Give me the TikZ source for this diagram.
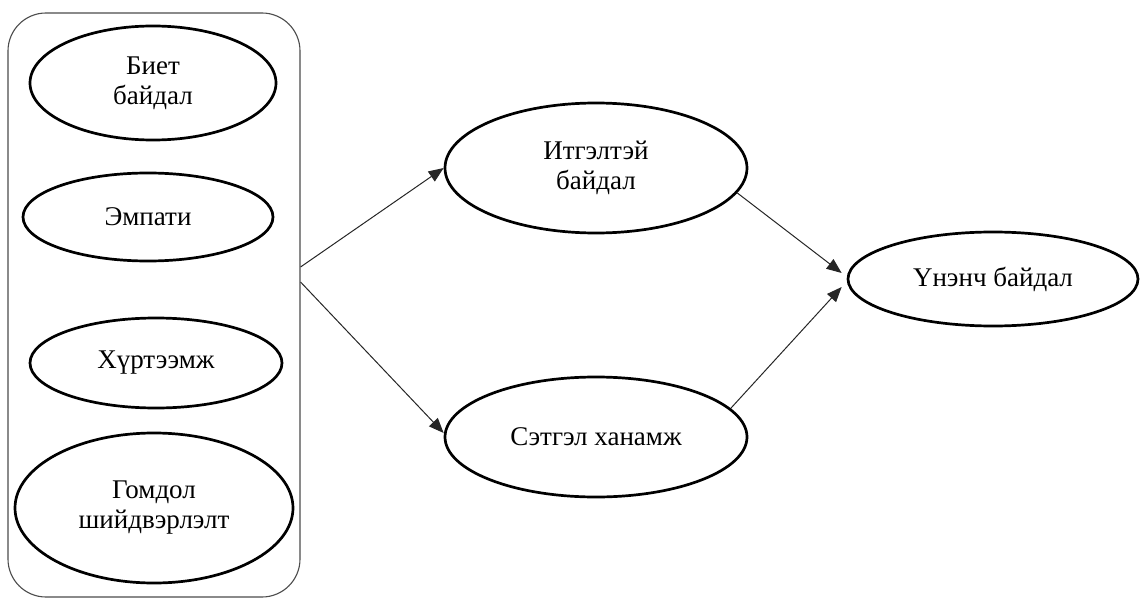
\documentclass[tikz,border=0pt]{standalone}
\usepackage{fontspec}
\setmainfont{Liberation Serif}
\usetikzlibrary{shapes.geometric,arrows.meta}
\begin{document}
\begin{tikzpicture}[x=1pt,y=-1pt,
  oval/.style={draw=black,line width=2.7pt,ellipse,inner sep=0pt,align=center,
    font=\fontsize{27}{30}\selectfont},
  grpbox/.style={draw=black!70,line width=1.1pt,rounded corners=38pt,inner sep=0pt},
  arr/.style={draw=black!85,line width=1pt,-{Triangle[length=15pt,width=12pt]}}]
\useasboundingbox (0,0) rectangle (1140,599);
\node[grpbox,minimum width=292pt,minimum height=584pt] (grp) at (154,305) {};
\node[oval,minimum width=246pt,minimum height=114pt] (biet) at (153,83) {Биет\\байдал};
\node[oval,minimum width=250pt,minimum height=88pt] (emp) at (148,217) {Эмпати};
\node[oval,minimum width=252pt,minimum height=90pt] (hur) at (156,363) {Хүртээмж};
\node[oval,minimum width=278pt,minimum height=150pt] (gom) at (154,508) {Гомдол\\шийдвэрлэлт};
\node[oval,minimum width=302pt,minimum height=130pt] (itg) at (596,168) {Итгэлтэй\\байдал};
\node[oval,minimum width=302pt,minimum height=120pt] (set) at (596,437) {Сэтгэл ханамж};
\node[oval,minimum width=290pt,minimum height=94pt] (un) at (993,279) {Үнэнч байдал};
\coordinate (g1) at ([yshift=38pt]grp.east);
\coordinate (g2) at ([yshift=23pt]grp.east);
\coordinate (unA) at ([xshift=-5pt,yshift=6pt]un.west);
\coordinate (unB) at ([xshift=-5pt,yshift=-8pt]un.west);
\draw[arr] (g1) -- (itg.west);
\draw[arr] (g2) -- ([yshift=4pt]set.west);
\draw[arr] (itg.-10) -- (unA);
\draw[arr] (set.12) -- (unB);
\end{tikzpicture}
\end{document}
